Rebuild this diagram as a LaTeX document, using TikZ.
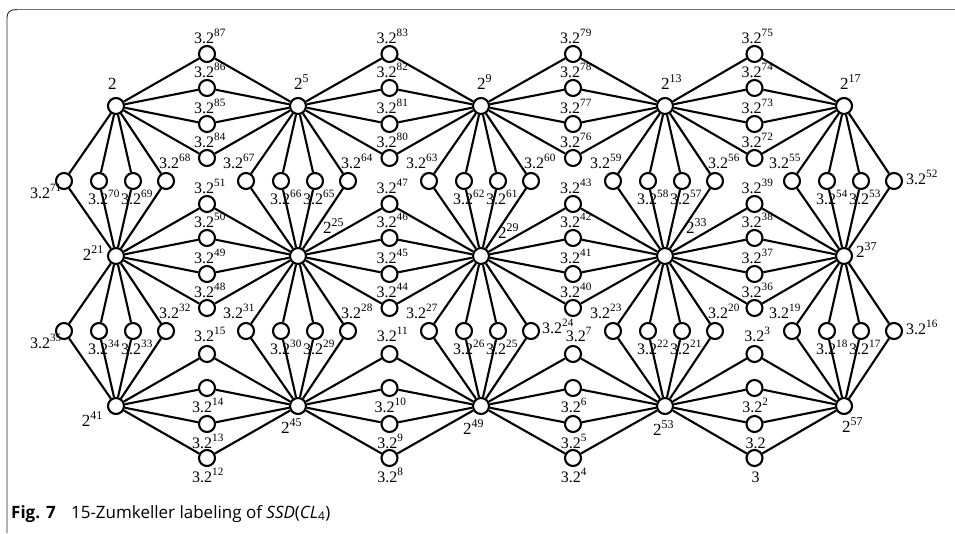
\documentclass[tikz,border=0pt]{standalone}
\usepackage{fontspec}
\setmainfont{Liberation Serif}
\newfontfamily\capfont{Open Sans}
\usetikzlibrary{calc}
\newcommand\lbl[1]{\ifnum#1>1 3.2\textsuperscript{#1}\else\ifnum#1=1 3.2\else 3\fi\fi}
\newcommand\placelab[3]{\node[lab,anchor=#1] (l#2) at ([shift={#3}]n#2.center) {\lbl{#2}};}
\tikzset{
  vtx/.style={circle, draw, line width=2.1pt, minimum size=16pt, inner sep=0pt},
  edge/.style={line width=2.1pt},
  lab/.style={font=\fontsize{16}{16}\selectfont, inner sep=0pt},
  hlab/.style={font=\fontsize{17}{17}\selectfont, inner sep=0pt},
}
\begin{document}
\begin{tikzpicture}[x=1pt,y=-1pt]
\useasboundingbox (0,0) rectangle (955,533);
% frame
\draw[line width=0.9pt, black!85] (7,533) -- (7,18) .. controls (7,12) and (10,9.5) .. (17,9.5);
\draw[line width=1.6pt, black!55] (17,9.5) -- (955,9.5);
% hubs
\foreach \r/\ry in {1/106,2/256,3/406}{
  \foreach \c/\cx in {1/116,2/298,3/481,4/665,5/844}{
    \node[vtx] (h\r\c) at (\cx,\ry) {};
  }
}
% horizontal diamonds
\foreach \r/\base in {1/91,2/55,3/19}{
  \foreach \c in {1,2,3,4}{
    \pgfmathtruncatemacro\cn{\c+1}
    \foreach \k/\dy in {0/-52,1/-18,2/18,3/52}{
      \pgfmathtruncatemacro\e{\base-4*\c-\k}
      \node[vtx] (n\e) at ($(h\r\c)!0.5!(h\r\cn)+(0,\dy)$) {};
      \draw[edge] (h\r\c) -- (n\e) -- (h\r\cn);
      \ifnum\r<3
        \placelab{base}{\e}{(3,-11)}
      \else
        \ifnum\k=0
          \ifnum\e=7
            \placelab{base}{\e}{(6,-13)}
          \else
            \placelab{base}{\e}{(3,-13)}
          \fi
        \else
          \placelab{base}{\e}{(1,24)}
        \fi
      \fi
    }
  }
}
% vertical diamonds
\foreach \r/\base in {1/75,2/39}{
  \pgfmathtruncatemacro\rn{\r+1}
  \foreach \c in {1,2,3,4,5}{
    \foreach \k/\dx in {0/-52,1/-17,2/17,3/50}{
      \pgfmathtruncatemacro\e{\base-4*\c-\k}
      \node[vtx] (n\e) at ($(h\r\c)!0.5!(h\rn\c)+(\dx,0)$) {};
      \draw[edge] (h\r\c) -- (n\e) -- (h\rn\c);
      \ifcase\k
        \ifnum\c=1
          \placelab{base east}{\e}{(-2,17)}
        \else
          \placelab{base}{\e}{(-7,-13)}
        \fi
      \or
        \placelab{base}{\e}{(5,23)}
      \or
        \placelab{base}{\e}{(4,23)}
      \or
        \ifnum\c=5
          \placelab{base west}{\e}{(12,3)}
        \else
          \ifnum\e=24
            \placelab{base west}{\e}{(11,2)}
          \else
            \placelab{base}{\e}{(9,-13)}
          \fi
        \fi
      \fi
    }
  }
}
% hub labels
\node[hlab,anchor=base west] (lh11) at ([shift={(-8,-17)}]h11.center) {2};
\node[hlab,anchor=base west] (lh12) at ([shift={(-4,-17)}]h12.center) {2\textsuperscript{5}};
\node[hlab,anchor=base west] (lh13) at ([shift={(-4,-17)}]h13.center) {2\textsuperscript{9}};
\node[hlab,anchor=base west] (lh14) at ([shift={(-4,-17)}]h14.center) {2\textsuperscript{13}};
\node[hlab,anchor=base west] (lh15) at ([shift={(-4,-17)}]h15.center) {2\textsuperscript{17}};
\node[hlab,anchor=base east] (lh21) at ([shift={(-12,4)}]h21.center) {2\textsuperscript{21}};
\node[hlab,anchor=base west] (lh22) at ([shift={(25,-23)}]h22.center) {2\textsuperscript{25}};
\node[hlab,anchor=base west] (lh23) at ([shift={(17,-18)}]h23.center) {2\textsuperscript{29}};
\node[hlab,anchor=base west] (lh24) at ([shift={(21,-23)}]h24.center) {2\textsuperscript{33}};
\node[hlab,anchor=base west] (lh25) at ([shift={(12,1)}]h25.center) {2\textsuperscript{37}};
\node[hlab,anchor=base east] (lh31) at ([shift={(-13,20)}]h31.center) {2\textsuperscript{41}};
\node[hlab,anchor=base west] (lh32) at ([shift={(-17,27)}]h32.center) {2\textsuperscript{45}};
\node[hlab,anchor=base west] (lh33) at ([shift={(-18,28)}]h33.center) {2\textsuperscript{49}};
\node[hlab,anchor=base west] (lh34) at ([shift={(-12,29)}]h34.center) {2\textsuperscript{53}};
\node[hlab,anchor=base west] (lh35) at ([shift={(-2,26)}]h35.center) {2\textsuperscript{57}};
% caption
\node[anchor=base west, inner sep=0pt, font=\capfont\fontsize{17}{20}\selectfont] (cap) at (11,518)
  {\textbf{Fig. 7}\hspace{0.9em}15-Zumkeller labeling of \textit{SSD}(\textit{CL}\textsubscript{4})};
\end{tikzpicture}
\end{document}
